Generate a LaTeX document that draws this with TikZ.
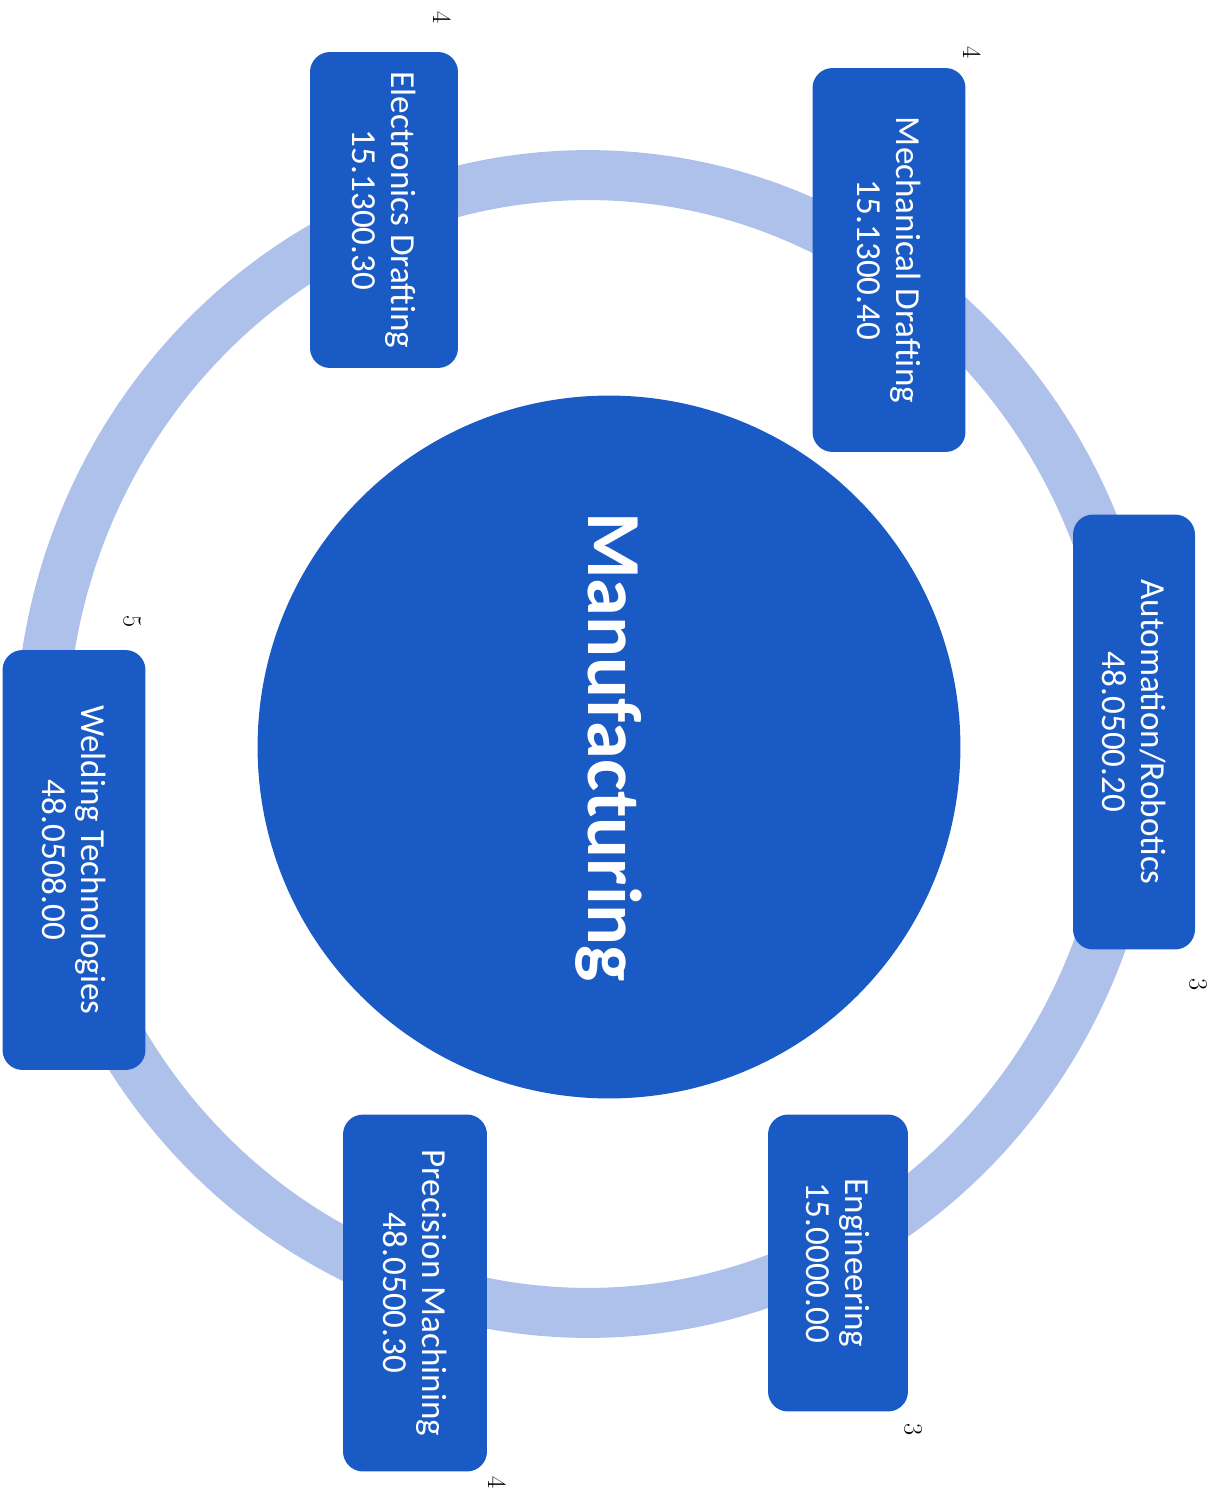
\documentclass[tikz,border=0pt]{standalone}
\usepackage{fontspec}
\setsansfont{Carlito}
\usepackage{tikz}
\usetikzlibrary{shapes}

\definecolor{boxblue}{RGB}{26,90,196}
\definecolor{ringblue}{RGB}{174,193,235}

\begin{document}
\begin{tikzpicture}
    [
    x = 0.02cm, y = -0.02cm,
    every node/.style = {rotate=-90, text=white, align=center,
                         font=\sffamily\fontsize{20}{22.5}\selectfont},
    program/.style    = {rectangle, rounded corners=0.4cm, fill=boxblue, inner sep=0pt},
    hub/.style        = {circle, fill=boxblue, minimum size=14.06cm, inner sep=0pt,
                         font=\sffamily\bfseries\fontsize{43.5}{50}\selectfont},
    count/.style      = {text=black, inner sep=0pt, font=\rmfamily\fontsize{15}{17}\selectfont}
    ]
    \useasboundingbox (0,0) rectangle (1225,1491);
    % ring behind the boxes
    \fill [ringblue, even odd rule]
        (588,744) ellipse [x radius=11.46cm, y radius=11.88cm]
        (588,744) ellipse [x radius=10.42cm, y radius=10.88cm];
    \node [hub] (manufacturing) at (609,747) {Manufacturing};
    % programs
    \node [program, minimum width=7.68cm, minimum height=3.06cm] (mechanical) at (889,260)
        {Mechanical Drafting\\15.1300.40};
    \node [program, minimum width=8.70cm, minimum height=2.44cm] (automation) at (1134,732)
        {Automation/Robotics\\48.0500.20};
    \node [program, minimum width=5.94cm, minimum height=2.80cm] (engineering) at (838,1263)
        {Engineering\\15.0000.00};
    \node [program, minimum width=7.14cm, minimum height=2.88cm] (precision) at (415,1293)
        {Precision Machining\\48.0500.30};
    \node [program, minimum width=8.40cm, minimum height=2.86cm] (welding) at (74,860)
        {Welding Technologies\\48.0508.00};
    \node [program, minimum width=6.32cm, minimum height=2.96cm] (electronics) at (384,210)
        {Electronics Drafting\\15.1300.30};
    % counts
    \node [count] (mechanical count) at (972,53) {4};
    \node [count] (automation count) at (1198,985) {3};
    \node [count] (engineering count) at (913,1430) {3};
    \node [count] (precision count) at (497,1483) {4};
    \node [count] (welding count) at (132,622) {5};
    \node [count] (electronics count) at (442,18) {4};
\end{tikzpicture}
\end{document}
